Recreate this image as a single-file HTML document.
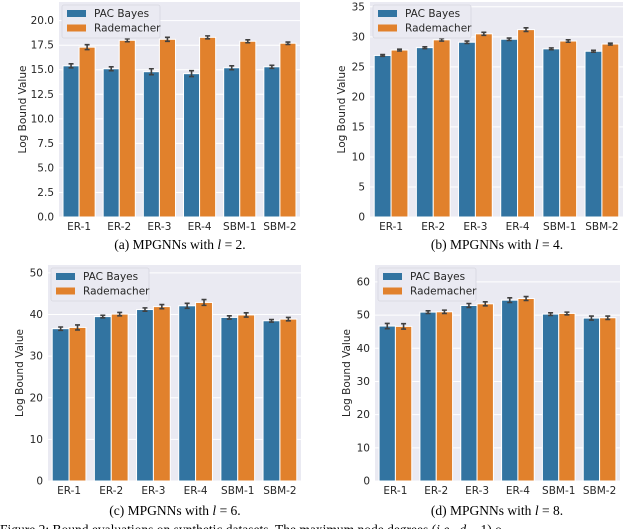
<!DOCTYPE html>
<html><head><meta charset="utf-8"><style>
html,body{margin:0;padding:0;background:#fff;width:640px;height:529px;overflow:hidden}
svg{display:block}
text{font-family:"DejaVu Sans","Liberation Sans",sans-serif}
.cap{font-family:"Liberation Serif",serif;font-size:13.5px;fill:#000}
</style></head><body>
<svg id="fig" width="640" height="529" viewBox="0 0 640 529">
<text class="cap" x="180" y="249" text-anchor="middle">(a) MPGNNs with <tspan font-style="italic">l</tspan> = 2.</text>
<text class="cap" x="497" y="249" text-anchor="middle">(b) MPGNNs with <tspan font-style="italic">l</tspan> = 4.</text>
<text class="cap" x="175" y="515" text-anchor="middle">(c) MPGNNs with <tspan font-style="italic">l</tspan> = 6.</text>
<text class="cap" x="497" y="515" text-anchor="middle">(d) MPGNNs with <tspan font-style="italic">l</tspan> = 8.</text>
<text class="cap" x="0" y="534">Figure 2:  Bound evaluations on synthetic datasets.  The maximum node degrees (<tspan font-style="italic">i.e.</tspan>, <tspan font-style="italic">d</tspan> − 1) o</text>
</svg>
<script>
const categories = ["ER-1","ER-2","ER-3","ER-4","SBM-1","SBM-2"];
const pacA = [15.4,15.1,14.8,14.6,15.2,15.3];
const radA = [17.3,18.0,18.1,18.3,17.9,17.7];
const pacB = [26.9,28.2,29.1,29.6,28.0,27.6];
const radB = [27.8,29.5,30.5,31.2,29.3,28.8];
const pacC = [36.6,39.5,41.2,42.1,39.3,38.5];
const radC = [36.9,40.1,41.9,42.9,39.9,38.9];
const pacD = [46.7,50.9,52.9,54.5,50.3,49.1];
const radD = [46.6,51.0,53.4,55.0,50.5,49.2];
const errA = [0.2,0.2,0.3,0.3,0.2,0.15, 0.25,0.15,0.2,0.15,0.15,0.12];
const errB = [0.15,0.15,0.2,0.2,0.15,0.15, 0.15,0.2,0.25,0.3,0.2,0.15];
const errC = [0.4,0.3,0.4,0.6,0.4,0.3, 0.6,0.4,0.5,0.7,0.5,0.4];
const errD = [0.8,0.4,0.6,0.7,0.4,0.6, 0.8,0.5,0.6,0.6,0.4,0.5];
const ticksA = ["0.0","2.5","5.0","7.5","10.0","12.5","15.0","17.5","20.0"];
const ticksB = ["0","5","10","15","20","25","30","35"];
const ticksC = ["0","10","20","30","40","50"];
const ticksD = ["0","10","20","30","40","50","60"];
const seriesNames = ["PAC Bayes","Rademacher"];

const NS="http://www.w3.org/2000/svg";
const svg=document.getElementById('fig');
function mk(tag,attrs,parent){const e=document.createElementNS(NS,tag);for(const k in attrs)e.setAttribute(k,attrs[k]);(parent||svg).appendChild(e);return e;}
const colors=["#3274a1","#e1812c"];

function panel(id,L,R,T,B,ymax,ticks,pac,rad,err){
  const g=mk('g',{});
  
  
  const y=v=>B-(v/ymax)*(B-T);
  const bg=mk('rect',{x:L,y:T,width:R-L,height:B-T,fill:"#eaeaf2"},g);
  
  
  ticks.forEach(t=>{
    const v=parseFloat(t), yy=y(v);
    const gl=mk('line',{x1:L,x2:R,y1:yy,y2:yy,stroke:"#fff","stroke-width":1},g);
    
    
    const tl=mk('text',{x:L-5,y:yy+3.5,"text-anchor":"end","font-size":"10.5",fill:"#262626"},g);
    tl.textContent=t;
    
    
  });
  const yl=mk('text',{x:0,y:0,"text-anchor":"middle","font-size":"10.5",fill:"#262626",transform:`translate(${L-(ticks[ticks.length-1].length>3?33:25)},${(T+B)/2}) rotate(-90)`},g);
  yl.textContent="Log Bound Value";
  
  
  const band=(R-L)/categories.length, bw=band*0.4;
  categories.forEach((c,i)=>{
    const cx=L+band*(i+0.5);
    [pac,rad].forEach((s,j)=>{
      const x=cx-bw+j*bw, v=s[i];
      const r=mk('rect',{x:x,y:y(v),width:bw,height:B-y(v),fill:colors[j],stroke:"#fff","stroke-width":1},g);
      
      
      const e=err[j*6+i], xm=x+bw/2;
      const eb=mk('path',{d:`M${xm},${y(v+e)}V${y(v-e)}M${xm-2.5},${y(v+e)}H${xm+2.5}M${xm-2.5},${y(v-e)}H${xm+2.5}`,stroke:"#404040","stroke-width":1.6,fill:"none"},g);
      
      
    });
    const xl=mk('text',{x:cx,y:B+13,"text-anchor":"middle","font-size":"10.5",fill:"#262626"},g);
    xl.textContent=c;
    
    
  });
  const lg=mk('g',{},g);
  
  
  mk('rect',{x:L+3,y:T+3,width:98,height:33,rx:2,fill:"#eaeaf2",stroke:"#d8d8e0","stroke-width":0.8},lg);
  seriesNames.forEach((n,j)=>{
    const p=mk('rect',{x:L+8,y:T+8+j*14.5,width:19,height:7,fill:colors[j]},lg);
    
    
    const t=mk('text',{x:L+35,y:T+15+j*14.5,"font-size":"10.5",fill:"#262626"},lg);
    t.textContent=n;
    
    
  });
}
panel('a',59,300,2,217,21.9,ticksA,pacA,radA,errA);
panel('b',370,623,2,217,35.8,ticksB,pacB,radB,errB);
panel('c',48,301,265,481,51.9,ticksC,pacC,radC,errC);
panel('d',375,620,265,481,65.1,ticksD,pacD,radD,errD);
</script>
</body></html>
